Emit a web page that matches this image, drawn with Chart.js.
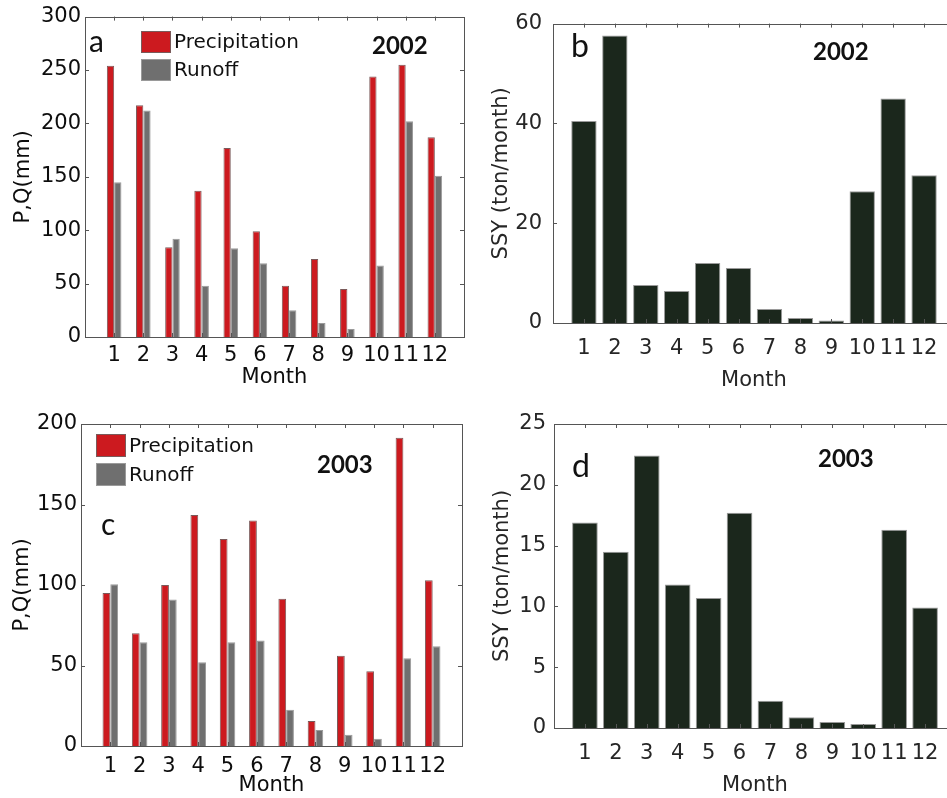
<!DOCTYPE html>
<html>
<head>
<meta charset="utf-8">
<script src="https://cdn.jsdelivr.net/npm/chart.js@4.4.1/dist/chart.umd.min.js"></script>
<style>
  html, body { margin: 0; padding: 0; background: #fff; overflow: hidden; width: 947px; height: 798px; }
  .panel { position: absolute; }
</style>
</head>
<body>
<div class="panel" style="left:0;top:0"><canvas id="chart-a" width="470" height="400"></canvas></div>
<div class="panel" style="left:470px;top:0"><canvas id="chart-b" width="500" height="400"></canvas></div>
<div class="panel" style="left:0;top:400px"><canvas id="chart-c" width="470" height="398"></canvas></div>
<div class="panel" style="left:470px;top:400px"><canvas id="chart-d" width="500" height="398"></canvas></div>
<script>
const months = ['1', '2', '3', '4', '5', '6', '7', '8', '9', '10', '11', '12'];

const precip2002 = [254, 217, 84, 137, 177, 99, 48, 73, 45, 244, 255, 187];
const runoff2002 = [145, 212, 92, 48, 83, 69, 25, 13, 7.5, 67, 202, 151];
const ssy2002 = [40.5, 57.6, 7.6, 6.4, 12.0, 11.0, 2.8, 1.0, 0.5, 26.4, 45.0, 29.6];

const precip2003 = [95, 70, 100, 143.5, 128.5, 140, 91.5, 15.5, 56, 46.5, 191.5, 103];
const runoff2003 = [100.5, 64.5, 91, 52, 64.5, 65.5, 22.5, 10, 7, 4.5, 54.5, 62];
const ssy2003 = [16.9, 14.5, 22.4, 11.8, 10.7, 17.7, 2.25, 0.88, 0.5, 0.33, 16.3, 9.9];

const FONT = '"DejaVu Sans", Arial, sans-serif';
const NOTE_FONT = 'Lato, "Open Sans", sans-serif';

// axes box + inward tick marks (matlab style)
const frame = {
  id: 'frame',
  afterDatasetsDraw(chart, args, opts) {
    const { ctx, chartArea: a, scales: { x, y } } = chart;
    const t = 4;
    ctx.save();
    ctx.strokeStyle = opts.color || '#555';
    ctx.lineWidth = 1;
    ctx.beginPath();
    months.forEach((m, i) => {
      const px = Math.round(x.getPixelForValue(i + 1)) + 0.5;
      ctx.moveTo(px, a.top); ctx.lineTo(px, a.top + t);
      ctx.moveTo(px, a.bottom); ctx.lineTo(px, a.bottom - t);
    });
    y.ticks.forEach(tk => {
      const py = Math.round(y.getPixelForValue(tk.value)) + 0.5;
      ctx.moveTo(a.left, py); ctx.lineTo(a.left + t, py);
      ctx.moveTo(a.right, py); ctx.lineTo(a.right - t, py);
    });
    ctx.stroke();
    ctx.strokeRect(Math.round(a.left) + 0.5, Math.round(a.top) + 0.5, Math.round(a.right - a.left), Math.round(a.bottom - a.top));
    ctx.restore();
  }
};

// panel letter, year, and the in-axes legend
const notes = {
  id: 'notes',
  afterDraw(chart, args, opts) {
    const ctx = chart.ctx;
    ctx.save();
    (opts.texts || []).forEach(t => {
      ctx.font = t.font;
      ctx.fillStyle = '#111';
      ctx.textBaseline = 'alphabetic';
      ctx.fillText(t.text, t.x, t.y);
    });
    const L = opts.legend;
    if (L) {
      chart.data.datasets.forEach((ds, i) => {
        const top = L.y + i * L.step;
        ctx.fillStyle = ds.backgroundColor;
        ctx.fillRect(L.x, top, L.w, L.h);
        ctx.strokeStyle = ds.borderColor;
        ctx.lineWidth = 1;
        ctx.strokeRect(L.x + 0.5, top + 0.5, L.w - 1, L.h - 1);
        ctx.fillStyle = '#111';
        ctx.font = '20px ' + FONT;
        ctx.textBaseline = 'middle';
        ctx.fillText(ds.label, L.x + L.w + 3, top + L.h / 2 + 1);
      });
    }
    ctx.restore();
  }
};

function buildChart(id, cfg) {
  const datasets = cfg.series.map(s => ({
    label: s.label,
    data: s.values.map((v, i) => ({ x: i + 1, y: v })),
    backgroundColor: s.fill,
    borderColor: s.edge,
    borderWidth: 1,
    categoryPercentage: cfg.groupWidth,
    barPercentage: 1
  }));
  const textColor = cfg.textColor;
  return new Chart(document.getElementById(id), {
    type: 'bar',
    data: { datasets },
    options: {
      responsive: false,
      animation: false,
      devicePixelRatio: 1,
      layout: { padding: { top: cfg.area.top, right: cfg.area.right, left: 0, bottom: 0 } },
      plugins: {
        legend: { display: false },
        tooltip: { enabled: false },
        frame: { color: '#555' },
        notes: cfg.notes
      },
      scales: {
        x: {
          type: 'linear', min: 0, max: 13, offset: false,
          grid: { display: false, drawTicks: false },
          border: { display: false },
          ticks: {
            stepSize: 1, autoSkip: false, maxRotation: 0, padding: cfg.xPad,
            color: textColor, font: { family: FONT, size: 21 },
            callback: v => months[v - 1] ?? ''
          },
          title: { display: true, text: 'Month', color: textColor, font: { family: FONT, size: 21 }, padding: { top: 0, bottom: cfg.xTitlePad } },
          afterFit: s => { s.height = cfg.area.xHeight; }
        },
        y: {
          min: 0, max: cfg.yMax,
          grid: { display: false, drawTicks: false },
          border: { display: false },
          ticks: { stepSize: cfg.yStep, padding: cfg.yPad, color: textColor, font: { family: FONT, size: 21 } },
          title: { display: true, text: cfg.yTitle, color: textColor, font: { family: FONT, size: 21 }, padding: { top: cfg.yTitlePad, bottom: 0 } },
          afterFit: s => { s.width = cfg.area.yWidth; }
        }
      }
    },
    plugins: [frame, notes]
  });
}

const RED = '#cc1a1f', RED_EDGE = '#7a5a5a';
const GRAY = '#6f6f6f', GRAY_EDGE = '#9a9a9a';
const DARK = '#1b271c', DARK_EDGE = '#9a9a9a';

buildChart('chart-a', {
  series: [
    { label: 'Precipitation', values: precip2002, fill: RED, edge: RED_EDGE },
    { label: 'Runoff', values: runoff2002, fill: GRAY, edge: GRAY_EDGE }
  ],
  groupWidth: 0.5, yMax: 300, yStep: 50, yTitle: 'P,Q(mm)', textColor: '#0d0d0d',
  area: { top: 16, right: 5, yWidth: 85, xHeight: 63 },
  xPad: 6, xTitlePad: 10, yPad: 4, yTitlePad: 11,
  notes: {
    texts: [
      { text: 'a', x: 89, y: 52, font: '30px ' + NOTE_FONT },
      { text: '2002', x: 372, y: 54, font: 'bold 24px ' + NOTE_FONT }
    ],
    legend: { x: 141, y: 31, w: 30, h: 22, step: 28 }
  }
});

buildChart('chart-b', {
  series: [{ label: 'SSY', values: ssy2002, fill: DARK, edge: DARK_EDGE }],
  groupWidth: 0.82, yMax: 60, yStep: 20, yTitle: 'SSY (ton/month)', textColor: '#262626',
  area: { top: 19, right: 15, yWidth: 83, xHeight: 77 },
  xPad: 13, xTitlePad: 7, yPad: 11, yTitlePad: 19,
  notes: {
    texts: [
      { text: 'b', x: 101, y: 57, font: '32px ' + NOTE_FONT },
      { text: '2002', x: 343, y: 60, font: 'bold 24px ' + NOTE_FONT }
    ]
  }
});

buildChart('chart-c', {
  series: [
    { label: 'Precipitation', values: precip2003, fill: RED, edge: RED_EDGE },
    { label: 'Runoff', values: runoff2003, fill: GRAY, edge: GRAY_EDGE }
  ],
  groupWidth: 0.53, yMax: 200, yStep: 50, yTitle: 'P,Q(mm)', textColor: '#0d0d0d',
  area: { top: 24, right: 7, yWidth: 81, xHeight: 52 },
  xPad: 8, xTitlePad: 0, yPad: 4, yTitlePad: 10,
  notes: {
    texts: [
      { text: 'c', x: 101, y: 135, font: '30px ' + NOTE_FONT },
      { text: '2003', x: 317, y: 73, font: 'bold 24px ' + NOTE_FONT }
    ],
    legend: { x: 96, y: 34, w: 30, h: 23, step: 29 }
  }
});

buildChart('chart-d', {
  series: [{ label: 'SSY', values: ssy2003, fill: DARK, edge: DARK_EDGE }],
  groupWidth: 0.83, yMax: 25, yStep: 5, yTitle: 'SSY (ton/month)', textColor: '#262626',
  area: { top: 24, right: 14, yWidth: 84, xHeight: 70 },
  xPad: 13, xTitlePad: 0, yPad: 8, yTitlePad: 20,
  notes: {
    texts: [
      { text: 'd', x: 102, y: 77, font: '32px ' + NOTE_FONT },
      { text: '2003', x: 348, y: 67, font: 'bold 24px ' + NOTE_FONT }
    ]
  }
});
</script>
</body>
</html>
